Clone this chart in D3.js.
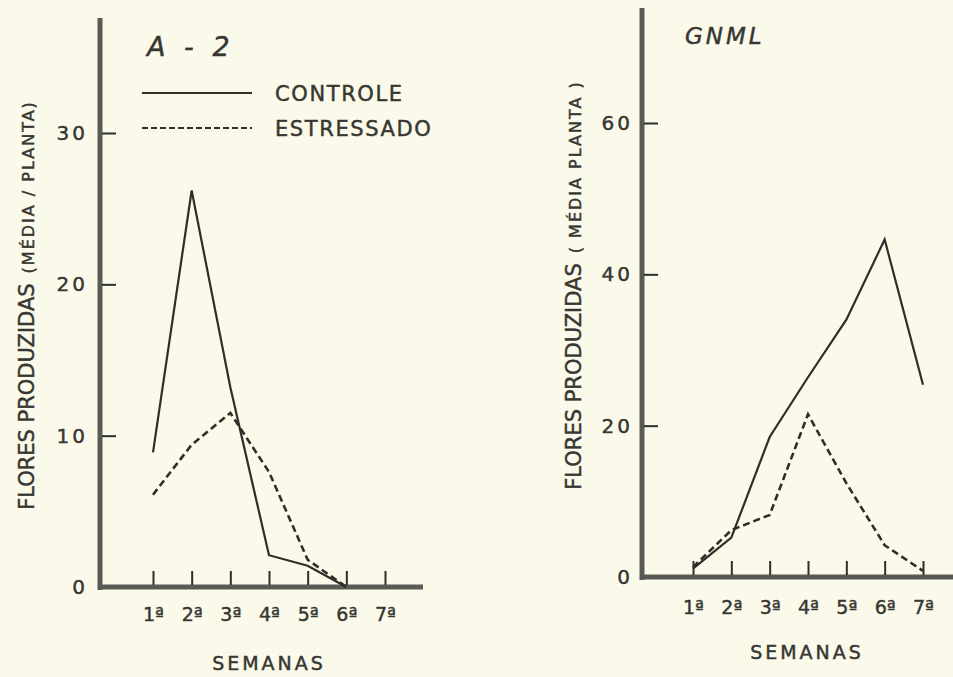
<!DOCTYPE html>
<html>
<head>
<meta charset="utf-8">
<script src="https://cdn.jsdelivr.net/npm/d3@7"></script>
<style>
  html, body { margin: 0; padding: 0; background: #fbfaea; }
  svg { display: block; }
  text { font-family: "DejaVu Sans", sans-serif; fill: #363632; stroke: #363632; stroke-width: 0.45px; }
</style>
</head>
<body>
<svg id="chart" width="953" height="677"></svg>
<script>
// ---- data ----
var weeks = ["1ª", "2ª", "3ª", "4ª", "5ª", "6ª", "7ª"];
var seriesNames = ["CONTROLE", "ESTRESSADO"];

// A-2 (first 6 weeks only)
var a2Controle   = [8.9, 26.2, 13.2, 2.1, 1.4, 0];
var a2Estressado = [6.1, 9.4, 11.5, 7.6, 1.8, 0];
var a2Ticks = [0, 10, 20, 30];

// GNML
var gnmlControle   = [1.1, 5.2, 18.5, 26.4, 34.0, 44.6, 25.4];
var gnmlEstressado = [1.3, 6.2, 8.2, 21.5, 12.4, 4.2, 0.8];
var gnmlTicks = [0, 20, 40, 60];

var svg = d3.select("#chart");
var ink = "#2e2e2b";
var axisInk = "#5a5a55";

// layout for the two panels (pixel geometry)
var panels = [
  { title: "A - 2", titleX: 147, titleY: 56, titleSize: 27, titleSpace: 5,
    controle: a2Controle, estressado: a2Estressado, ticks: a2Ticks,
    yMax: 30, yAxisX: 100, yTop: 18, y0: 587, yMaxPx: 133,
    xFirst: 153, xLast: 385, xEnd: 423, tickPad: 23, yTickPad: 14,
    ylabX: 34, ylabY: 305, ylabRest: "(MÉDIA / PLANTA)",
    semX: 269, semY: 670, legend: true },
  { title: "GNML", titleX: 685, titleY: 44, titleSize: 23, titleSpace: 3,
    controle: gnmlControle, estressado: gnmlEstressado, ticks: gnmlTicks,
    yMax: 60, yAxisX: 642, yTop: 8, y0: 577, yMaxPx: 123,
    xFirst: 693, xLast: 923, xEnd: 953, tickPad: 26, yTickPad: 11,
    ylabX: 581, ylabY: 285, ylabRest: "( MÉDIA   PLANTA )",
    semX: 807, semY: 659, legend: false }
];

panels.forEach(function(p) {
  var g = svg.append("g");

  var x = d3.scaleLinear().domain([0, weeks.length - 1]).range([p.xFirst, p.xLast]);
  var y = d3.scaleLinear().domain([0, p.yMax]).range([p.y0, p.yMaxPx]);

  // heavy axis lines
  g.append("line")
    .attr("x1", p.yAxisX).attr("x2", p.yAxisX)
    .attr("y1", p.yTop).attr("y2", p.y0 + 3)
    .attr("stroke", axisInk).attr("stroke-width", 5);
  g.append("line")
    .attr("x1", p.yAxisX - 2).attr("x2", p.xEnd)
    .attr("y1", p.y0).attr("y2", p.y0)
    .attr("stroke", axisInk).attr("stroke-width", 5);

  // x ticks (pointing up) and labels
  var xAxis = d3.axisBottom(x)
    .tickValues(d3.range(weeks.length))
    .tickFormat(function(i) { return weeks[i]; })
    .tickSize(-14)
    .tickPadding(p.tickPad);
  var gx = g.append("g").attr("transform", "translate(0," + (p.y0 - 2) + ")").call(xAxis);
  gx.select(".domain").remove();
  gx.selectAll(".tick line").attr("stroke", ink).attr("stroke-width", 2);
  gx.selectAll(".tick text")
    .style("font-family", "DejaVu Sans, sans-serif")
    .style("font-size", "19px").style("fill", "#363632");

  // y ticks (pointing right) and labels
  var yAxis = d3.axisLeft(y)
    .tickValues(p.ticks)
    .tickSize(-14)
    .tickPadding(p.yTickPad);
  var gy = g.append("g").attr("transform", "translate(" + (p.yAxisX + 2) + ",0)").call(yAxis);
  gy.select(".domain").remove();
  gy.selectAll(".tick line").attr("stroke", ink).attr("stroke-width", 2)
    .attr("display", function(d) { return d === 0 ? "none" : null; });
  gy.selectAll(".tick text")
    .style("font-family", "DejaVu Sans, sans-serif")
    .style("font-size", "20px").style("letter-spacing", "3px").style("fill", "#363632");

  // series lines
  var line = d3.line()
    .x(function(d, i) { return x(i); })
    .y(function(d) { return y(d); });
  g.append("path").datum(p.controle)
    .attr("d", line).attr("fill", "none")
    .attr("stroke", ink).attr("stroke-width", 2.2);
  g.append("path").datum(p.estressado)
    .attr("d", line).attr("fill", "none")
    .attr("stroke", ink).attr("stroke-width", 2.6)
    .attr("stroke-dasharray", "7,4");

  // title
  g.append("text")
    .attr("x", p.titleX).attr("y", p.titleY)
    .style("font-style", "italic")
    .style("font-size", p.titleSize + "px")
    .style("letter-spacing", p.titleSpace + "px")
    .text(p.title);

  // y label
  var yl = g.append("text")
    .attr("transform", "translate(" + p.ylabX + "," + p.ylabY + ") rotate(-90)")
    .attr("text-anchor", "middle")
    .style("font-size", "21px");
  yl.append("tspan").text("FLORES PRODUZIDAS");
  yl.append("tspan").style("font-size", "16px").style("letter-spacing", "2px")
    .attr("dx", 10).text(p.ylabRest);

  // x label
  g.append("text")
    .attr("x", p.semX).attr("y", p.semY)
    .attr("text-anchor", "middle")
    .style("font-size", "19px")
    .style("letter-spacing", "3px")
    .text("SEMANAS");

  if (p.legend) {
    var lg = g.append("g");
    seriesNames.forEach(function(name, i) {
      var ly = 93 + i * 35;
      lg.append("line")
        .attr("x1", 142).attr("x2", 252).attr("y1", ly).attr("y2", ly)
        .attr("stroke", ink).attr("stroke-width", 2.2)
        .attr("stroke-dasharray", i === 1 ? "6,3" : null);
      lg.append("text")
        .attr("x", 275).attr("y", ly + 8)
        .style("font-size", "21px")
        .style("letter-spacing", "1.6px")
        .text(name);
    });
  }
});
</script>
</body>
</html>
